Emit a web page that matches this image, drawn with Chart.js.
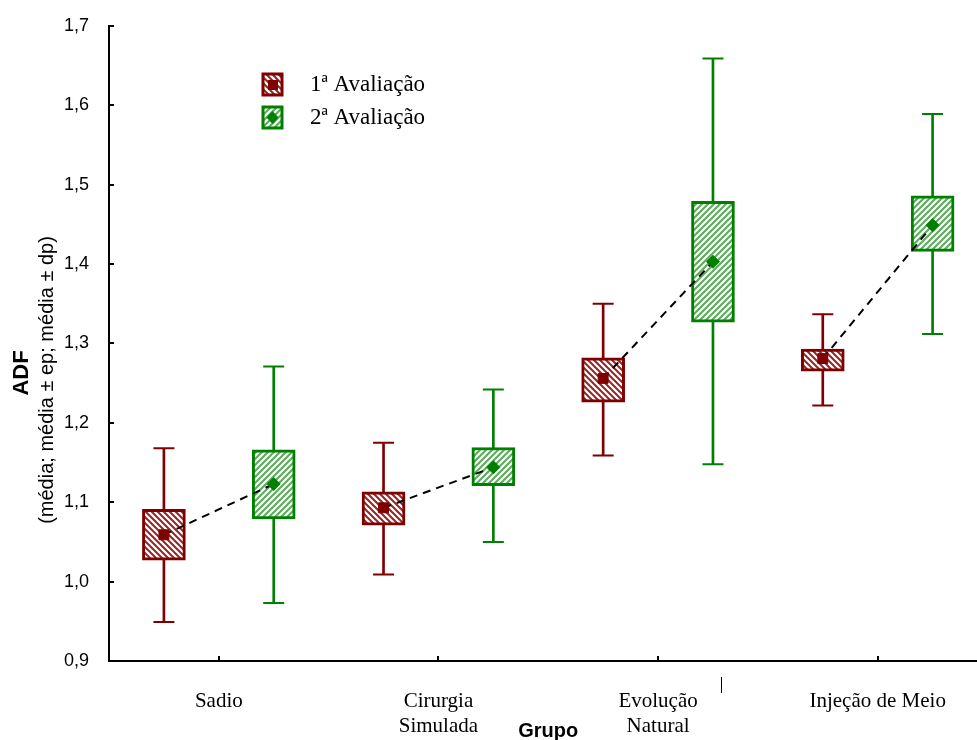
<!DOCTYPE html>
<html>
<head>
<meta charset="utf-8">
<title>ADF por grupo</title>
<script src="https://cdn.jsdelivr.net/npm/chart.js@4.4.1/dist/chart.umd.min.js"></script>
<style>
  html, body { margin: 0; padding: 0; background: #fff; overflow: hidden; }
  #wrap { width: 977px; height: 740px; overflow: hidden; }
  #chart { display: block; width: 1000px; height: 740px; }
</style>
</head>
<body>
<div id="wrap"><canvas id="chart" width="1000" height="740"></canvas></div>
<script>
// categories and series
const groups = [['Sadio'], ['Cirurgia', 'Simulada'], ['Evolução', 'Natural'], ['Injeção de Meio']];
const seriesNames = ['1ª Avaliação', '2ª Avaliação'];
const yTicks = [0.9, 1.0, 1.1, 1.2, 1.3, 1.4, 1.5, 1.6, 1.7];

// 1ª Avaliação: média, média ± ep, média ± dp
const mean1   = [1.059, 1.093, 1.256, 1.281];
const seLow1  = [1.027, 1.071, 1.226, 1.265];
const seHigh1 = [1.091, 1.113, 1.282, 1.293];
const sdLow1  = [0.949, 1.009, 1.159, 1.222];
const sdHigh1 = [1.168, 1.175, 1.350, 1.337];

// 2ª Avaliação
const mean2   = [1.123, 1.144, 1.403, 1.449];
const seLow2  = [1.079, 1.121, 1.327, 1.416];
const seHigh2 = [1.166, 1.169, 1.479, 1.486];
const sdLow2  = [0.973, 1.050, 1.148, 1.312];
const sdHigh2 = [1.271, 1.242, 1.659, 1.589];

const RED = '#800000';
const GREEN = '#008000';
const OFF = 0.25;

const ctx = document.getElementById('chart').getContext('2d');

// diagonal hatch fill, white behind
function hatch(color, rising) {
    const c = document.createElement('canvas');
    c.width = 6; c.height = 6;
    const g = c.getContext('2d');
    g.fillStyle = '#fff';
    g.fillRect(0, 0, 6, 6);
    g.strokeStyle = color;
    g.lineWidth = 2;
    g.beginPath();
    if (rising) {
        g.moveTo(-1, 7); g.lineTo(7, -1);
        g.moveTo(-1, 1); g.lineTo(1, -1);
        g.moveTo(5, 7); g.lineTo(7, 5);
    } else {
        g.moveTo(-1, -1); g.lineTo(7, 7);
        g.moveTo(5, -1); g.lineTo(7, 1);
        g.moveTo(-1, 5); g.lineTo(1, 7);
    }
    g.stroke();
    return ctx.createPattern(c, 'repeat');
}

const redFill = hatch('rgba(128,0,0,0.85)', false);
const greenFill = hatch('rgba(0,128,0,0.65)', true);

const xs1 = groups.map((g, i) => i - OFF);
const xs2 = groups.map((g, i) => i + OFF);

function pts(xs, ys) { return xs.map((x, i) => ({ x: x, y: ys[i] })); }
function ranges(xs, lo, hi) { return xs.map((x, i) => ({ x: x, y: [lo[i], hi[i]] })); }

const dashData = [];
groups.forEach((g, i) => {
    dashData.push({ x: xs1[i], y: mean1[i] }, { x: xs2[i], y: mean2[i] }, { x: i + 0.5, y: null });
});

const serif = "'Liberation Serif', 'Times New Roman', serif";
const sans = "'Liberation Sans', Arial, sans-serif";

// ticks drawn inside the plot, like the original
const innerTicks = {
    id: 'innerTicks',
    afterDatasetsDraw(chart) {
        const { ctx, chartArea: a, scales: { x, y } } = chart;
        ctx.save();
        ctx.strokeStyle = '#000';
        ctx.lineWidth = 2;
        ctx.beginPath();
        y.ticks.forEach(t => {
            const py = Math.round(y.getPixelForValue(t.value));
            ctx.moveTo(a.left, py);
            ctx.lineTo(a.left + 5, py);
        });
        x.ticks.forEach(t => {
            const px = Math.round(x.getPixelForValue(t.value));
            ctx.moveTo(px, a.bottom);
            ctx.lineTo(px, a.bottom - 5);
        });
        ctx.stroke();
        ctx.restore();
    }
};

// y title, legend
const extras = {
    id: 'extras',
    afterDraw(chart) {
        const { ctx, chartArea: a } = chart;
        ctx.save();
        ctx.fillStyle = '#000';
        ctx.textAlign = 'center';
        ctx.textBaseline = 'middle';

        ctx.save();
        ctx.translate(22, a.top + 347);
        ctx.rotate(-Math.PI / 2);
        ctx.font = 'bold 22px ' + sans;
        ctx.fillText('ADF', 0, 0);
        ctx.restore();

        ctx.save();
        ctx.translate(47, a.top + 354);
        ctx.rotate(-Math.PI / 2);
        ctx.font = '20px ' + sans;
        ctx.fillText('(média; média ± ep; média ± dp)', 0, 0);
        ctx.restore();

        // legend
        const items = [
            { fill: redFill, color: RED, style: 'rect' },
            { fill: greenFill, color: GREEN, style: 'rectRot' }
        ];
        items.forEach((it, k) => {
            const cx = a.left + 163;
            const cy = a.top + 58 + k * 33;
            ctx.fillStyle = it.fill;
            ctx.fillRect(cx - 9, cy - 10, 19, 21);
            ctx.strokeStyle = it.color;
            ctx.lineWidth = 3;
            ctx.strokeRect(cx - 9, cy - 10, 19, 21);
            ctx.fillStyle = it.color;
            ctx.beginPath();
            if (it.style === 'rect') {
                ctx.rect(cx - 4, cy - 4, 10, 10);
            } else {
                ctx.moveTo(cx + 0.5, cy - 6); ctx.lineTo(cx + 6.5, cy + 0.5); ctx.lineTo(cx + 0.5, cy + 7); ctx.lineTo(cx - 5.5, cy + 0.5);
                ctx.closePath();
            }
            ctx.fill();
            ctx.fillStyle = '#000';
            ctx.textAlign = 'left';
            ctx.font = '23px ' + serif;
            ctx.fillText(seriesNames[k], a.left + 201, cy + 1);
        });

        // stray mark under the axis in the original
        const x = chart.scales.x;
        ctx.fillRect(Math.round(x.getPixelForValue(2.285)), a.bottom + 16, 1, 16);
        ctx.restore();
    }
};

new Chart(ctx, {
    type: 'bar',
    data: {
        datasets: [
            { label: 'dp1', data: ranges(xs1, sdLow1, sdHigh1), backgroundColor: RED, barThickness: 2, grouped: false, order: 7 },
            { label: 'dp2', data: ranges(xs2, sdLow2, sdHigh2), backgroundColor: GREEN, barThickness: 2, grouped: false, order: 7 },
            { label: seriesNames[0], data: ranges(xs1, seLow1, seHigh1), backgroundColor: redFill, borderColor: RED,
              borderWidth: 3, borderSkipped: false, barThickness: 43, grouped: false, order: 6 },
            { label: seriesNames[1], data: ranges(xs2, seLow2, seHigh2), backgroundColor: greenFill, borderColor: GREEN,
              borderWidth: 3, borderSkipped: false, barThickness: 43, grouped: false, order: 6 },
            { type: 'scatter', label: 'cap1', data: pts(xs1, sdLow1).concat(pts(xs1, sdHigh1)),
              pointStyle: 'line', pointRadius: 10.5, borderColor: RED, borderWidth: 2, order: 5 },
            { type: 'scatter', label: 'cap2', data: pts(xs2, sdLow2).concat(pts(xs2, sdHigh2)),
              pointStyle: 'line', pointRadius: 10.5, borderColor: GREEN, borderWidth: 2, order: 5 },
            { type: 'line', label: 'link', data: dashData, borderColor: '#000', borderWidth: 2, borderDash: [8, 6],
              pointRadius: 0, spanGaps: false, fill: false, order: 4 },
            { type: 'scatter', label: 'm1', data: pts(xs1, mean1), pointStyle: 'rect', pointRadius: 7,
              backgroundColor: RED, borderColor: RED, borderWidth: 1, order: 3 },
            { type: 'scatter', label: 'm2', data: pts(xs2, mean2), pointStyle: 'rectRot', pointRadius: 6.5,
              backgroundColor: GREEN, borderColor: GREEN, borderWidth: 1, order: 3 }
        ]
    },
    options: {
        responsive: false,
        animation: false,
        events: [],
        layout: { padding: { top: 26, right: 7, bottom: 0, left: 0 } },
        plugins: { legend: { display: false }, tooltip: { enabled: false } },
        scales: {
            x: {
                type: 'linear',
                min: -0.5,
                max: 3.5,
                offset: false,
                grid: { display: false },
                border: { display: true, color: '#000', width: 2 },
                afterBuildTicks: s => { s.ticks = groups.map((g, i) => ({ value: i })); },
                afterFit: s => { s.height = 79; },
                ticks: {
                    callback: v => groups[v],
                    color: '#000',
                    padding: 20,
                    maxRotation: 0,
                    autoSkip: false,
                    font: { family: serif, size: 21, lineHeight: 1.19 }
                },
                title: {
                    display: true,
                    text: 'Grupo',
                    color: '#000',
                    padding: { top: 0, bottom: -3 },
                    font: { family: sans, size: 20, weight: 'bold' }
                }
            },
            y: {
                min: 0.9,
                max: 1.7,
                grid: { display: false },
                border: { display: true, color: '#000', width: 2 },
                afterBuildTicks: s => { s.ticks = yTicks.map(v => ({ value: v })); },
                afterFit: s => { s.width = 109; },
                ticks: {
                    callback: v => v.toFixed(1).replace('.', ','),
                    color: '#000',
                    padding: 12,
                    font: { family: sans, size: 18 }
                }
            }
        }
    },
    plugins: [innerTicks, extras]
});
</script>
</body>
</html>
